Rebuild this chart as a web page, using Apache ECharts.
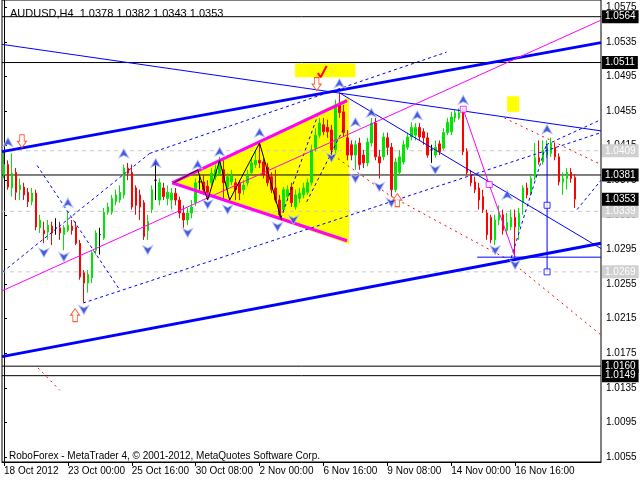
<!DOCTYPE html>
<html><head><meta charset="utf-8">
<script src="https://cdn.jsdelivr.net/npm/echarts@6/dist/echarts.min.js"></script>
<style>html,body{margin:0;padding:0;background:#fff}#c{width:640px;height:480px}</style>
</head><body><div id="c"></div>
<script>
const chartTitle = 'AUDUSD,H4  1.0378 1.0382 1.0343 1.0353';
const footerText = 'RoboForex - MetaTrader 4, \u00a9 2001-2012, MetaQuotes Software Corp.';
const timeTickLabels = ['18 Oct 2012','23 Oct 00:00','25 Oct 16:00','30 Oct 08:00','2 Nov 00:00','6 Nov 16:00','9 Nov 08:00','14 Nov 00:00','16 Nov 16:00'];
const timeTickBars = [0,16,32,48,64,80,96,112,128];
const priceTicks = [1.0055,1.0095,1.0135,1.0175,1.0215,1.0255,1.0295,1.0335,1.0375,1.0415,1.0455,1.0495,1.0535,1.0575];
const barSlots = 150;
// [open, close, low, high]
const candles = [
[1.0381,1.0393,1.0377,1.0408],[1.0393,1.0367,1.0364,1.0398],[1.0366,1.0383,1.0356,1.0406],[1.0384,1.0361,1.0352,1.0389],
[1.0364,1.0369,1.0352,1.0377],[1.0367,1.0358,1.0352,1.0372],[1.0361,1.0350,1.0344,1.0366],[1.0350,1.0360,1.0346,1.0366],
[1.0360,1.0321,1.0317,1.0364],[1.0320,1.0329,1.0314,1.0335],[1.0317,1.0313,1.0302,1.0327],[1.0315,1.0323,1.0306,1.0329],
[1.0322,1.0314,1.0300,1.0327],[1.0320,1.0320,1.0312,1.0331],[1.0320,1.0314,1.0306,1.0327],[1.0312,1.0320,1.0294,1.0323],
[1.0317,1.0323,1.0315,1.0338],[1.0322,1.0317,1.0312,1.0329],[1.0321,1.0302,1.0300,1.0327],[1.0302,1.0263,1.0260,1.0306],
[1.0268,1.0256,1.0234,1.0271],[1.0256,1.0266,1.0245,1.0271],[1.0262,1.0291,1.0256,1.0294],[1.0294,1.0314,1.0289,1.0317],
[1.0312,1.0312,1.0289,1.0320],[1.0308,1.0338,1.0306,1.0343],[1.0338,1.0344,1.0335,1.0349],[1.0338,1.0354,1.0335,1.0358],
[1.0350,1.0358,1.0346,1.0364],[1.0352,1.0361,1.0349,1.0369],[1.0358,1.0389,1.0354,1.0393],[1.0389,1.0383,1.0375,1.0395],
[1.0384,1.0344,1.0341,1.0393],[1.0366,1.0346,1.0335,1.0369],[1.0358,1.0344,1.0329,1.0364],[1.0349,1.0310,1.0306,1.0352],
[1.0317,1.0327,1.0306,1.0335],[1.0341,1.0364,1.0337,1.0369],[1.0375,1.0375,1.0352,1.0395],[1.0352,1.0372,1.0346,1.0377],
[1.0366,1.0356,1.0352,1.0372],[1.0354,1.0361,1.0346,1.0369],[1.0352,1.0360,1.0341,1.0366],[1.0360,1.0352,1.0346,1.0366],
[1.0352,1.0337,1.0331,1.0356],[1.0337,1.0329,1.0320,1.0346],[1.0329,1.0337,1.0323,1.0343],[1.0337,1.0344,1.0331,1.0352],
[1.0349,1.0372,1.0345,1.0377],[1.0373,1.0373,1.0364,1.0381],[1.0373,1.0364,1.0358,1.0381],[1.0368,1.0361,1.0352,1.0375],
[1.0372,1.0383,1.0368,1.0389],[1.0379,1.0387,1.0375,1.0393],[1.0383,1.0395,1.0380,1.0402],[1.0387,1.0372,1.0352,1.0398],
[1.0367,1.0379,1.0358,1.0383],[1.0373,1.0380,1.0369,1.0387],[1.0372,1.0364,1.0352,1.0377],[1.0372,1.0360,1.0352,1.0375],
[1.0364,1.0369,1.0358,1.0375],[1.0372,1.0380,1.0368,1.0387],[1.0384,1.0395,1.0381,1.0402],[1.0393,1.0398,1.0389,1.0410],
[1.0398,1.0395,1.0389,1.0418],[1.0396,1.0381,1.0377,1.0401],[1.0390,1.0372,1.0368,1.0395],[1.0379,1.0364,1.0360,1.0384],
[1.0366,1.0352,1.0349,1.0387],[1.0352,1.0335,1.0331,1.0358],[1.0341,1.0364,1.0337,1.0367],[1.0356,1.0364,1.0352,1.0369],
[1.0367,1.0349,1.0344,1.0372],[1.0344,1.0358,1.0341,1.0364],[1.0354,1.0360,1.0349,1.0366],[1.0358,1.0366,1.0354,1.0372],
[1.0361,1.0372,1.0358,1.0377],[1.0372,1.0410,1.0369,1.0416],[1.0412,1.0427,1.0408,1.0435],[1.0427,1.0441,1.0424,1.0447],
[1.0439,1.0431,1.0427,1.0447],[1.0436,1.0431,1.0424,1.0445],[1.0433,1.0410,1.0404,1.0439],[1.0410,1.0462,1.0406,1.0468],
[1.0463,1.0453,1.0447,1.0476],[1.0454,1.0430,1.0425,1.0462],[1.0424,1.0404,1.0398,1.0433],[1.0416,1.0404,1.0398,1.0421],
[1.0404,1.0416,1.0387,1.0421],[1.0418,1.0393,1.0387,1.0424],[1.0404,1.0395,1.0389,1.0410],[1.0395,1.0419,1.0391,1.0424],
[1.0418,1.0441,1.0414,1.0447],[1.0441,1.0402,1.0398,1.0447],[1.0402,1.0395,1.0377,1.0410],[1.0402,1.0425,1.0398,1.0430],
[1.0424,1.0413,1.0404,1.0430],[1.0413,1.0364,1.0356,1.0418],[1.0364,1.0396,1.0361,1.0401],[1.0384,1.0402,1.0381,1.0410],
[1.0396,1.0416,1.0393,1.0421],[1.0413,1.0425,1.0410,1.0430],[1.0425,1.0436,1.0421,1.0442],[1.0427,1.0436,1.0421,1.0441],
[1.0436,1.0425,1.0421,1.0441],[1.0431,1.0424,1.0416,1.0435],[1.0424,1.0404,1.0401,1.0430],[1.0410,1.0410,1.0395,1.0416],
[1.0404,1.0413,1.0401,1.0421],[1.0417,1.0408,1.0404,1.0421],[1.0412,1.0430,1.0410,1.0435],[1.0430,1.0442,1.0427,1.0447],
[1.0431,1.0448,1.0427,1.0454],[1.0447,1.0453,1.0442,1.0456],[1.0447,1.0453,1.0445,1.0458],[1.0454,1.0408,1.0404,1.0458],
[1.0408,1.0384,1.0381,1.0412],[1.0381,1.0372,1.0368,1.0387],[1.0373,1.0364,1.0360,1.0379],[1.0366,1.0352,1.0341,1.0372],
[1.0356,1.0341,1.0337,1.0364],[1.0337,1.0312,1.0306,1.0341],[1.0332,1.0306,1.0302,1.0335],[1.0306,1.0329,1.0300,1.0335],
[1.0329,1.0335,1.0323,1.0346],[1.0335,1.0317,1.0312,1.0341],[1.0317,1.0326,1.0312,1.0337],[1.0321,1.0332,1.0317,1.0341],
[1.0332,1.0321,1.0286,1.0341],[1.0321,1.0337,1.0306,1.0343],[1.0349,1.0366,1.0335,1.0369],[1.0366,1.0358,1.0354,1.0372],
[1.0360,1.0377,1.0357,1.0381],[1.0379,1.0401,1.0375,1.0418],[1.0401,1.0396,1.0393,1.0421],[1.0396,1.0410,1.0393,1.0421],
[1.0404,1.0412,1.0401,1.0421],[1.0406,1.0418,1.0402,1.0424],[1.0413,1.0402,1.0398,1.0418],[1.0402,1.0373,1.0369,1.0406],
[1.0373,1.0377,1.0358,1.0384],[1.0377,1.0384,1.0364,1.0389],[1.0384,1.0377,1.0372,1.0389],[1.0378,1.0353,1.0343,1.0382]
];
const blackLevels = [1.0564,1.0511,1.0381,1.0160,1.0149];
const grayLevels = [1.0409,1.0339,1.0269];
const bidLevel = 1.0353;
// annotation objects, in [bar, price]
const channelUpper = [[-0.5,1.0408],[149.5,1.0534]];
const channelLower = [[-0.5,1.0171],[149.5,1.0302]];
const resistThin = [[-0.5,1.0532],[149.5,1.0432]];
const fallThin = [[84,1.0476],[149.5,1.0296]];
const magentaThin = [[-0.5,1.0247],[149.5,1.0560]];
const triUpper = [[42.1,1.0372],[85.9,1.0467]];
const triLower = [[42.1,1.0372],[85.9,1.0305]];
const triangleFill = [[42.1,1.0372],[86.4,1.0471],[86.4,1.0301]];
const yellowBoxA = [[72.9,1.0510],[88,1.0510],[88,1.0494],[72.9,1.0494]];
const yellowBoxB = [[126,1.0472],[129,1.0472],[129,1.0454],[126,1.0454]];
const checkMark = [[78.6,1.0499],[79.3,1.0494],[80.8,1.0507]];
const zigzag = [[42.5,1.0372],[48.5,1.0387],[51,1.0352],[54,1.0398],[56.5,1.0352],[64,1.0418],[69.5,1.0329]];
const waveMagenta = [[115,1.0457],[121.5,1.0370],[128,1.0286]];
const waveMagentaNodes = [[115,1.0457],[121.5,1.0370]];
const targetVertical = [[136,1.0416],[136,1.0269]];
const targetNodes = [[136,1.0346],[136,1.0269]];
const baseHorizontal = [[118.5,1.0286],[149.5,1.0286]];
const dashedBlue = [
  [[-0.3,1.0269],[36.5,1.0406]],
  [[36.5,1.0406],[110.8,1.0523]],
  [[8.3,1.0392],[29,1.0248]],
  [[19.8,1.0233],[149.5,1.0430]],
  [[69.3,1.0331],[78.5,1.0449]],
  [[75.8,1.0350],[85.3,1.0437]],
  [[127,1.0285],[135.8,1.0416]],
  [[135.8,1.0416],[149.5,1.0445]],
  [[143.5,1.0341],[149.5,1.0375]]
];
const dottedRed = [
  [[8.5,1.0158],[14,1.0132]],
  [[82.4,1.0404],[96.7,1.0357],[127.5,1.0280]],
  [[128,1.0277],[149.5,1.0196]],
  [[125.3,1.0447],[149.5,1.0393]]
];
const fractalUp = [[1,1.0419],[16,1.0349],[30,1.0406],[38,1.0395],[48.5,1.0393],[54,1.0408],[64,1.0430],[84,1.0487],[88,1.0442],[92,1.0453],[103.5,1.0450],[115,1.0468],[126,1.0358],[136,1.0434]];
const fractalDown = [[10,1.0291],[15,1.0286],[20,1.0225],[36,1.0294],[46,1.0314],[51,1.0347],[56,1.0341],[68.5,1.0321],[72.5,1.0329],[82,1.0401],[88,1.0377],[94,1.0367],[97,1.0349],[108,1.0387],[123,1.0294],[128,1.0277]];
const redArrowDown = [[4.5,1.0420],[78.3,1.0486]];
const redArrowUp = [[17.8,1.0219],[98.5,1.0352]];

const FONT = 'Liberation Sans';
const cats = candles.map((_, i) => String(i));
while (cats.length < barSlots) cats.push(String(cats.length));

function line(data, color, width, type, z) {
  return {type:'line', xAxisIndex:1, yAxisIndex:0, data, symbol:'none', silent:true, animation:false,
    lineStyle:{color, width, type: type || 'solid'}, z: z || 5};
}
function polygon(points, color, z) {
  return {type:'custom', xAxisIndex:1, yAxisIndex:0, silent:true, animation:false, z: z || 1, data:[0],
    renderItem: (params, api) => ({type:'polygon', shape:{points: points.map(p => api.coord(p))}, style:{fill: color}})};
}
function level(v, lineColor, boxColor, dashed, hideLine) {
  return {type:'line', xAxisIndex:1, yAxisIndex:0, data:[[-0.5, v],[barSlots-0.5, v]], symbol:'none', silent:true,
    animation:false, z:2,
    lineStyle:{color: lineColor, width:1, type: dashed ? [4,4] : 'solid', opacity: hideLine ? 0 : 1},
    endLabel:{show:true, distance:1, formatter: v.toFixed(4), color:'#fff', backgroundColor: boxColor,
      padding:[2,3,1,3], fontFamily: FONT, fontSize: 10}};
}
const upPath = 'path://M6,0 L12,11 L6,8 L0,11 Z';
const downPath = 'path://M0,0 L6,3 L12,0 L6,11 Z';
const blockDown = 'path://M3,0 L9,0 L9,7 L12,7 L6,14 L0,7 L3,7 Z';
const blockUp = 'path://M6,0 L12,7 L9,7 L9,14 L3,14 L3,7 L0,7 Z';

const series = [
  polygon(triangleFill, '#ffff00', 1),
  polygon(yellowBoxA, '#ffff00', 1),
  polygon(yellowBoxB, '#ffff00', 1),
  ...blackLevels.map(v => level(v, '#000', '#000', false, false)),
  ...grayLevels.map(v => level(v, '#c8c8c8', '#d0d0d0', true, false)),
  level(bidLevel, '#000', '#000', false, true),
  ...dashedBlue.map(d => line(d, '#0000ff', 1, [3,3], 4)),
  ...dottedRed.map(d => line(d, '#ff0000', 1, [2,4], 4)),
  {type:'candlestick', xAxisIndex:0, yAxisIndex:0, data:candles, barWidth:2, z:3,
    itemStyle:{color:'#00e600', color0:'#ff0000', borderColor:'#00e600', borderColor0:'#ff0000', borderColorDoji:'#000', borderWidth:1}},
  line(channelUpper, '#0000ff', 3),
  line(channelLower, '#0000ff', 3),
  line(resistThin, '#0000ff', 1),
  line(fallThin, '#0000ff', 1),
  line(magentaThin, '#ff00ff', 1),
  line(triUpper, '#ff00ff', 3),
  line(triLower, '#ff00ff', 3),
  line(zigzag, '#000', 1),
  line(checkMark, '#ff0000', 2),
  line(waveMagenta, '#ff00ff', 1),
  line(targetVertical, '#0000ff', 1),
  line(baseHorizontal, '#0000ff', 1),
  {type:'scatter', xAxisIndex:1, yAxisIndex:0, data:waveMagentaNodes, symbol:'rect', symbolSize:6, silent:true, z:6,
    itemStyle:{color:'#fff', borderColor:'#ff00ff', borderWidth:1}},
  {type:'scatter', xAxisIndex:1, yAxisIndex:0, data:targetNodes, symbol:'rect', symbolSize:6, silent:true, z:6,
    itemStyle:{color:'#fff', borderColor:'#0000ff', borderWidth:1}},
  {type:'scatter', xAxisIndex:1, yAxisIndex:0, data:fractalUp, symbol:upPath, symbolSize:[10,9], silent:true, z:6,
    itemStyle:{color:'#1a2fd0', borderColor:'#b0c0ff', borderWidth:1}},
  {type:'scatter', xAxisIndex:1, yAxisIndex:0, data:fractalDown, symbol:downPath, symbolSize:[10,9], silent:true, z:6,
    itemStyle:{color:'#1a2fd0', borderColor:'#b0c0ff', borderWidth:1}},
  {type:'scatter', xAxisIndex:1, yAxisIndex:0, data:redArrowDown, symbol:blockDown, symbolSize:[9,13], silent:true, z:6,
    itemStyle:{color:'#fff', borderColor:'#ff3300', borderWidth:1}},
  {type:'scatter', xAxisIndex:1, yAxisIndex:0, data:redArrowUp, symbol:blockUp, symbolSize:[9,13], silent:true, z:6,
    itemStyle:{color:'#fff', borderColor:'#ff3300', borderWidth:1}}
];

const option = {
  animation:false,
  backgroundColor:'#fff',
  title:[
    {text: chartTitle, left:5, top:3, textStyle:{fontFamily:FONT, fontSize:11, fontWeight:'normal', color:'#000'}},
    {text: footerText, left:4, top:446, textStyle:{fontFamily:FONT, fontSize:10, fontWeight:'normal', color:'#000'}}
  ],
  grid:{left:2, right:39, top:0, bottom:18, show:true, borderColor:'#000', borderWidth:1, backgroundColor:'#fff'},
  xAxis:[
    {type:'category', data:cats, boundaryGap:true,
      axisLine:{show:true, lineStyle:{color:'#000'}},
      axisTick:{show:true, alignWithLabel:true, length:4, lineStyle:{color:'#000'}, interval:(i) => timeTickBars.includes(i)},
      axisLabel:{show:true, interval:(i) => timeTickBars.includes(i), align:'left', margin:4,
        formatter:(v, i) => { const k = timeTickBars.indexOf(i); return k >= 0 ? timeTickLabels[k] : ''; },
        fontFamily:FONT, fontSize:10, color:'#000'},
      splitLine:{show:false}},
    {type:'value', min:-0.5, max:barSlots-0.5, show:false}
  ],
  yAxis:[{type:'value', position:'right', min:1.00492, max:1.05833, scale:true,
    axisLine:{show:true, lineStyle:{color:'#000'}},
    axisTick:{show:true, length:3, inside:false, customValues: priceTicks, lineStyle:{color:'#000'}},
    axisLabel:{show:true, customValues: priceTicks, formatter:(v) => v.toFixed(4), margin:5, fontFamily:FONT, fontSize:10, color:'#000'},
    splitLine:{show:false}}],
  series
};
const chart = echarts.init(document.getElementById('c'));
chart.setOption(option);
</script></body></html>
